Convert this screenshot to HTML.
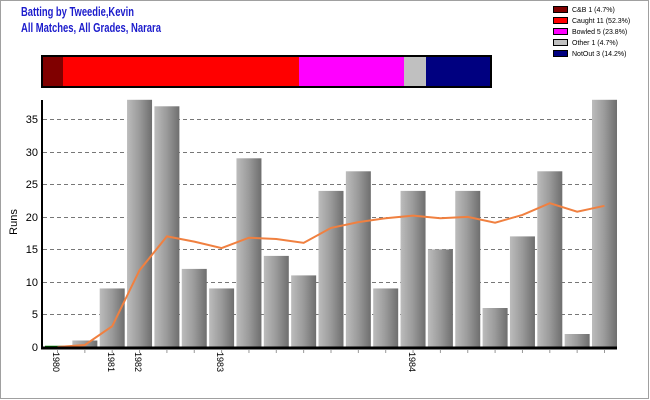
<!DOCTYPE html>
<html><head><meta charset="utf-8"><style>
body{margin:0;background:#fff}
svg{display:block;font-family:"Liberation Sans",Arial,sans-serif}
</style></head><body>
<svg width="650" height="400" viewBox="0 0 650 400" xmlns="http://www.w3.org/2000/svg">
<defs>
<linearGradient id="g" x1="0" x2="1" y1="0" y2="0">
<stop offset="0" stop-color="#bcbcbc"/><stop offset="0.5" stop-color="#9a9a9a"/><stop offset="1" stop-color="#6e6e6e"/>
</linearGradient>
</defs>
<rect x="0.5" y="0.5" width="648" height="398" fill="#fff" stroke="#a0a0a0" stroke-width="1"/>
<text x="21" y="16" font-size="13" font-weight="bold" fill="#1c1ccc" textLength="113" lengthAdjust="spacingAndGlyphs">Batting by Tweedie,Kevin</text>
<text x="21" y="32" font-size="13" font-weight="bold" fill="#1c1ccc" textLength="140" lengthAdjust="spacingAndGlyphs">All Matches, All Grades, Narara</text>
<g font-size="7" fill="#000">
<rect x="553.5" y="6.5" width="14" height="6" fill="#800000" stroke="#000"/><text x="572" y="12">C&amp;B 1 (4.7%)</text>
<rect x="553.5" y="17.5" width="14" height="6" fill="#ff0000" stroke="#000"/><text x="572" y="23">Caught 11 (52.3%)</text>
<rect x="553.5" y="28.5" width="14" height="6" fill="#ff00ff" stroke="#000"/><text x="572" y="34">Bowled 5 (23.8%)</text>
<rect x="553.5" y="39.5" width="14" height="6" fill="#c0c0c0" stroke="#000"/><text x="572" y="45">Other 1 (4.7%)</text>
<rect x="553.5" y="50.5" width="14" height="6" fill="#000080" stroke="#000"/><text x="572" y="56">NotOut 3 (14.2%)</text>
</g>
<rect x="42" y="56" width="21" height="31" fill="#800000"/>
<rect x="63" y="56" width="236" height="31" fill="#ff0000"/>
<rect x="299" y="56" width="105" height="31" fill="#ff00ff"/>
<rect x="404" y="56" width="22" height="31" fill="#c0c0c0"/>
<rect x="426" y="56" width="65" height="31" fill="#000080"/>
<rect x="42" y="56" width="449" height="31" fill="none" stroke="#000" stroke-width="2"/>
<g stroke="#777" stroke-dasharray="4,3" stroke-width="1">
<line x1="43" x2="616" y1="314.5" y2="314.5"/><line x1="43" x2="616" y1="282.5" y2="282.5"/>
<line x1="43" x2="616" y1="249.5" y2="249.5"/><line x1="43" x2="616" y1="217.5" y2="217.5"/>
<line x1="43" x2="616" y1="184.5" y2="184.5"/><line x1="43" x2="616" y1="152.5" y2="152.5"/>
<line x1="43" x2="616" y1="119.5" y2="119.5"/>
</g>
<g font-size="11" fill="#000" text-anchor="end">
<text x="38" y="351">0</text><text x="38" y="318">5</text><text x="38" y="286">10</text>
<text x="38" y="253">15</text><text x="38" y="221">20</text><text x="38" y="188">25</text>
<text x="38" y="156">30</text><text x="38" y="123">35</text>
</g>
<text transform="translate(17,222) rotate(-90)" font-size="11" text-anchor="middle">Runs</text>
<g fill="url(#g)">
<rect x="72.35" y="340.5" width="25" height="6.5"/>
<rect x="99.7" y="288.45" width="25" height="58.55"/>
<rect x="127.05" y="99.8" width="25" height="247.2"/>
<rect x="154.4" y="106.3" width="25" height="240.7"/>
<rect x="181.75" y="268.9" width="25" height="78.1"/>
<rect x="209.1" y="288.45" width="25" height="58.55"/>
<rect x="236.45" y="158.3" width="25" height="188.7"/>
<rect x="263.8" y="255.9" width="25" height="91.1"/>
<rect x="291.15" y="275.4" width="25" height="71.6"/>
<rect x="318.5" y="190.9" width="25" height="156.1"/>
<rect x="345.85" y="171.3" width="25" height="175.7"/>
<rect x="373.2" y="288.45" width="25" height="58.55"/>
<rect x="400.55" y="190.9" width="25" height="156.1"/>
<rect x="427.9" y="249.4" width="25" height="97.6"/>
<rect x="455.25" y="190.9" width="25" height="156.1"/>
<rect x="482.6" y="308" width="25" height="39"/>
<rect x="509.95" y="236.4" width="25" height="110.6"/>
<rect x="537.3" y="171.3" width="25" height="175.7"/>
<rect x="564.65" y="334" width="25" height="13"/>
<rect x="592" y="99.8" width="25" height="247.2"/>
</g>
<line x1="45" x2="65" y1="346.5" y2="346.5" stroke="#008000" stroke-width="1.5"/>
<polyline fill="none" stroke="#f08040" stroke-width="2" points="57.5,347 84.85,345 112.2,326.2 139.55,270.2 166.9,236.4 194.25,241.6 221.6,248.1 248.95,237.7 276.3,239 303.65,242.9 331,227.9 358.35,222.1 385.7,218.2 413.05,215.6 440.4,218.2 467.75,216.9 495.1,222.7 522.45,214.9 549.8,203.2 577.15,211.7 604.5,205.8"/>
<line x1="42" x2="42" y1="100" y2="349" stroke="#000" stroke-width="2"/>
<line x1="41" x2="617" y1="348" y2="348" stroke="#000" stroke-width="3"/>
<g stroke="#999">
<line x1="57.5" x2="57.5" y1="350" y2="353"/><line x1="84.85" x2="84.85" y1="350" y2="353"/><line x1="112.2" x2="112.2" y1="350" y2="353"/><line x1="139.55" x2="139.55" y1="350" y2="353"/><line x1="166.9" x2="166.9" y1="350" y2="353"/><line x1="194.25" x2="194.25" y1="350" y2="353"/><line x1="221.6" x2="221.6" y1="350" y2="353"/><line x1="248.95" x2="248.95" y1="350" y2="353"/><line x1="276.3" x2="276.3" y1="350" y2="353"/><line x1="303.65" x2="303.65" y1="350" y2="353"/><line x1="331" x2="331" y1="350" y2="353"/><line x1="358.35" x2="358.35" y1="350" y2="353"/><line x1="385.7" x2="385.7" y1="350" y2="353"/><line x1="413.05" x2="413.05" y1="350" y2="353"/><line x1="440.4" x2="440.4" y1="350" y2="353"/><line x1="467.75" x2="467.75" y1="350" y2="353"/><line x1="495.1" x2="495.1" y1="350" y2="353"/><line x1="522.45" x2="522.45" y1="350" y2="353"/><line x1="549.8" x2="549.8" y1="350" y2="353"/><line x1="577.15" x2="577.15" y1="350" y2="353"/><line x1="604.5" x2="604.5" y1="350" y2="353"/>
</g>
<g font-size="9" fill="#000">
<text transform="translate(53,352) rotate(90)">1980</text>
<text transform="translate(108,352) rotate(90)">1981</text>
<text transform="translate(135,352) rotate(90)">1982</text>
<text transform="translate(217,352) rotate(90)">1983</text>
<text transform="translate(409,352) rotate(90)">1984</text>
</g>
</svg>
</body></html>
